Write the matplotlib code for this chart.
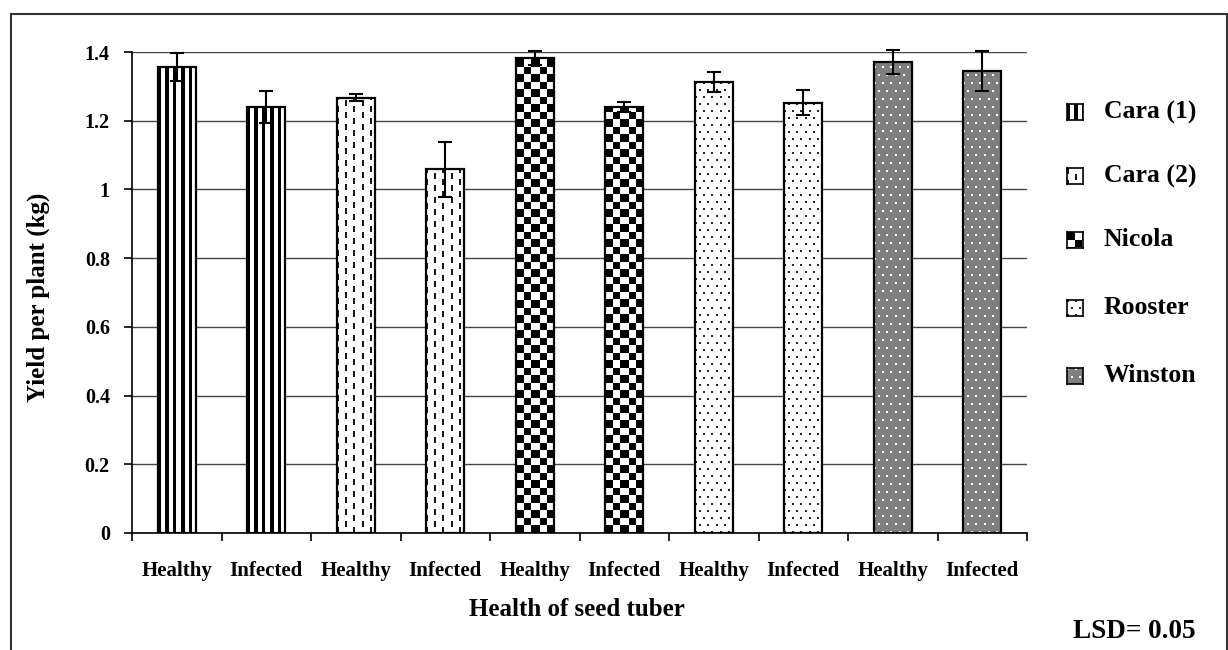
import matplotlib
matplotlib.use("Agg")
import matplotlib.pyplot as plt
from matplotlib.patches import Rectangle
import numpy as np

# data
categories = ["Healthy", "Infected"] * 5
varieties = ["Cara (1)", "Cara (2)", "Nicola", "Rooster", "Winston"]
yields = [1.357, 1.240, 1.267, 1.059, 1.383, 1.240, 1.313, 1.252, 1.371, 1.345]
errors = [0.040, 0.046, 0.011, 0.080, 0.020, 0.014, 0.030, 0.036, 0.034, 0.058]
patterns = ["vstripe", "vdash", "checker", "dots", "gray"]

W, H = 1228, 650
plt.rcParams["font.family"] = ["Liberation Serif", "DejaVu Serif"]
plt.rcParams["font.weight"] = "bold"


def make_pattern(kind, h, w):
    img = np.ones((h, w, 3))
    ii, jj = np.mgrid[0:h, 0:w]
    if kind == "vstripe":
        mask = ((jj + 0.5) % 7.5) < 3.3
        img[mask] = 0
    elif kind == "vdash":
        col = (jj % 8) < 2
        phase = (jj // 8) % 2 * 6
        mask = col & (((ii + phase) % 12) < 6)
        img[mask] = 0.1
    elif kind == "checker":
        mask = ((np.floor(ii / 7.5) + np.floor(jj / 7.5)) % 2) == 0
        img[mask] = 0
    elif kind == "dots":
        row = ii // 7
        mask = ((ii % 7) < 2) & (((jj + (row % 2) * 4) % 8) < 2)
        img[mask] = 0.15
    elif kind == "gray":
        img[:] = 0.5
        row = ii // 8
        mask = ((ii % 8) < 2) & (((jj + (row % 2) * 4) % 8) < 2)
        img[mask] = 1.0
    return img


fig = plt.figure(figsize=(W / 100, H / 100), dpi=100)
ax_l, ax_r, ax_t, ax_b = 132, 1027, 52, 533
ax = fig.add_axes([ax_l / W, 1 - ax_b / H, (ax_r - ax_l) / W, (ax_b - ax_t) / H])

n = len(yields)
x = np.arange(n) + 0.5
width = 0.425

px_per_x = (ax_r - ax_l) / n
px_per_y = (ax_b - ax_t) / 1.4

for i in range(n):
    kind = patterns[i // 2]
    hp = max(int(round(yields[i] * px_per_y)), 1)
    wp = int(round(width * px_per_x))
    ax.imshow(make_pattern(kind, hp, wp), origin="lower", interpolation="nearest",
              extent=(x[i] - width / 2, x[i] + width / 2, 0, yields[i]),
              aspect="auto", zorder=2)

ax.bar(x, yields, width=width, fill=False, edgecolor="black", linewidth=1.6, zorder=3)
eb = ax.errorbar(x, yields, yerr=errors, fmt="none", ecolor="black", elinewidth=1.5,
                 capsize=5, capthick=1.5, zorder=4)
for art in eb.lines[1] + eb.lines[2]:
    art.set_clip_on(False)
ax.set_aspect("auto")
ax.set_xlim(0, n)
ax.set_ylim(0, 1.4)

ax.set_yticks(np.arange(0, 1.41, 0.2))
ax.set_yticklabels(["0", "0.2", "0.4", "0.6", "0.8", "1", "1.2", "1.4"])
ax.yaxis.grid(True, color="#444444", linewidth=1)
ax.set_axisbelow(True)
ax.set_xticks(x)
ax.set_xticklabels(categories)
ax.set_xticks(np.arange(0, n + 1), minor=True)
ax.tick_params(axis="x", which="major", length=0, pad=20, labelsize=15)
ax.tick_params(axis="x", which="minor", length=6, width=1.2, direction="out")
ax.tick_params(axis="y", length=6, width=1.2, direction="out", pad=10, labelsize=14.5)
for s in ["top", "right"]:
    ax.spines[s].set_visible(False)
for s in ["left", "bottom"]:
    ax.spines[s].set_linewidth(1.2)

fig.text(38 / W, 1 - 297 / H, "Yield per plant (kg)", rotation=90, ha="center",
         va="center", fontsize=18, fontweight="bold")
fig.text(577 / W, 1 - 609 / H, "Health of seed tuber", ha="center", va="center",
         fontsize=18, fontweight="bold")
fig.text(1134 / W, 1 - 631 / H, "LSD= 0.05", ha="center", va="center",
         fontsize=19.5, fontweight="bold")

# legend drawn by hand
leg_y = [112, 176, 240, 308, 376]
for name, kind, yy in zip(varieties, patterns, leg_y):
    sw = fig.add_axes([1067 / W, 1 - (yy + 8) / H, 16 / W, 16 / H])
    sw.imshow(make_pattern(kind, 16, 16), interpolation="nearest", aspect="auto")
    sw.set_xticks([])
    sw.set_yticks([])
    for s in sw.spines.values():
        s.set_linewidth(1.2)
    fig.text(1104 / W, 1 - yy / H, name, ha="left", va="center",
             fontsize=18.5, fontweight="bold")

fig.patches.append(Rectangle((11 / W, -0.1), (1227 - 11) / W, 1.1 - 14 / H,
                             transform=fig.transFigure, fill=False,
                             edgecolor="#333333", linewidth=1.5))

fig.savefig("out.png", dpi=100)
